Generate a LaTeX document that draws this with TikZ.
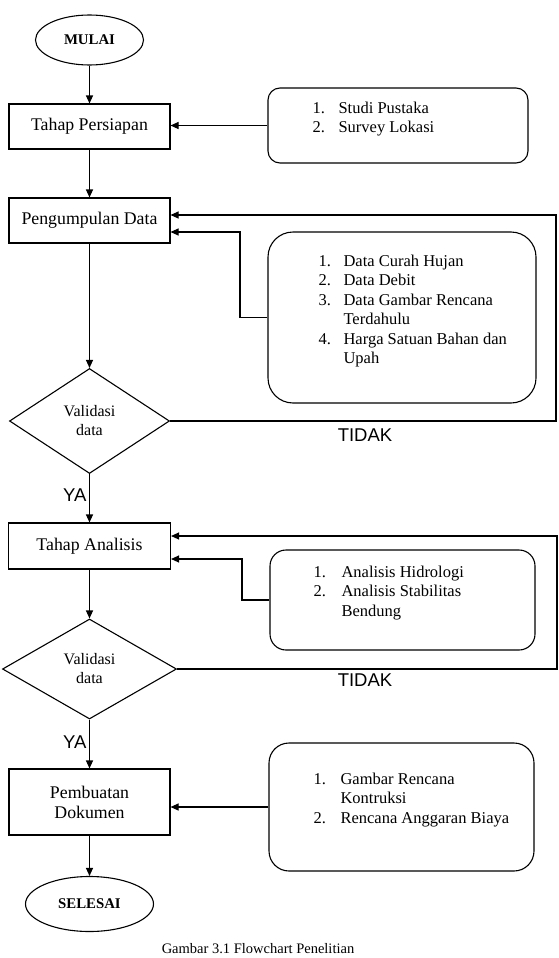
\documentclass[tikz,border=0pt]{standalone}
\usepackage{fontspec}
\setmainfont{Liberation Serif}
\newfontfamily\sansarial{Liberation Sans}
\usetikzlibrary{shapes.geometric,arrows.meta}

\begin{document}
\begin{tikzpicture}[x=1pt,y=-1pt,
  every path/.style={>={Triangle[length=8pt,width=7pt]},line width=1.1pt},
  terminal/.style={draw,ellipse,inner sep=0pt,font=\fontsize{14.8}{17}\selectfont\bfseries},
  proses/.style={draw,rectangle,minimum width=161pt,inner sep=0pt,align=center,font=\fontsize{17.8}{20}\selectfont},
  keputusan/.style={draw,diamond,inner sep=0pt,align=center,font=\fontsize{16}{19}\selectfont},
  daftar/.style={draw,rectangle,inner sep=0pt},
  isi/.style={anchor=base west,inner sep=0pt,font=\fontsize{16.5}{19.5}\selectfont},
  ket/.style={inner sep=0pt,font=\sansarial\fontsize{18.5}{20}\selectfont}]
\useasboundingbox (0,0) rectangle (558,958);
\node[terminal,minimum width=108pt,minimum height=50pt] (a) at (89.5,40)    {MULAI};
\node[proses,minimum height=45pt]                      (b) at (89.5,126.5) {Tahap Persiapan};
\node[proses,minimum height=45pt]                      (c) at (89.5,220.5) {Pengumpulan Data};
\node[keputusan,minimum width=160pt,minimum height=105pt] (d) at (89.5,421) {Validasi\\data};
\node[proses,minimum width=162pt,minimum height=46pt]   (e) at (89.5,546)   {Tahap Analisis};
\node[keputusan,minimum width=174pt,minimum height=100pt] (f) at (89.5,669) {Validasi\\data};
\node[proses,minimum height=66pt]                      (g) at (89.5,802)   {Pembuatan\\Dokumen};
\node[terminal,minimum width=128pt,minimum height=55pt] (h) at (89.5,904)  {SELESAI};
\node[daftar,rounded corners=12pt,minimum width=260pt,minimum height=75pt]  (i) at (398,125.5) {};
\node[daftar,rounded corners=25pt,minimum width=268pt,minimum height=171pt] (j) at (402,317.5) {};
\node[daftar,rounded corners=16pt,minimum width=265pt,minimum height=100pt] (k) at (402.5,600) {};
\node[daftar,rounded corners=20pt,minimum width=265pt,minimum height=128pt] (l) at (401.5,807) {};
\node[isi] (i1) at (312,113) {\begin{tabular}[t]{@{}p{26pt}@{}l@{}}1. & Studi Pustaka\\2. & Survey Lokasi\end{tabular}};
\node[isi] (j1) at (318,266) {\begin{tabular}[t]{@{}p{25pt}@{}l@{}}1. & Data Curah Hujan\\2. & Data Debit\\3. & Data Gambar Rencana\\ & Terdahulu\\4. & Harga Satuan Bahan dan\\ & Upah\end{tabular}};
\node[isi] (k1) at (313,577) {\begin{tabular}[t]{@{}p{28pt}@{}l@{}}1. & Analisis Hidrologi\\2. & Analisis Stabilitas\\ & Bendung\end{tabular}};
\node[isi] (l1) at (313,784) {\begin{tabular}[t]{@{}p{27pt}@{}l@{}}1. & Gambar Rencana\\ & Kontruksi\\2. & Rencana Anggaran Biaya\end{tabular}};
\node[ket] (td1) at (365,435) {TIDAK};
\node[ket] (td2) at (365,680) {TIDAK};
\coordinate (t1) at (556,215);
\coordinate (s1) at (240,232);
\coordinate (t2) at (557,536);
\coordinate (s2) at (242,559);
\draw[->] (a) -- (b);
\draw[->] (i.west) -- (i.west -| b.east);
\draw[->] (b) -- (c);
\draw[->] (c) -- (d);
\draw[->] (d.east) -| (t1) -- (t1 -| c.east);
\draw[->] (j.west) -| (s1) -- (s1 -| c.east);
\draw[->] (d) -- node[ket,left=2.5pt,pos=0.44] (ya1) {YA} (e);
\draw[->] (e) -- (f);
\draw[->] (f.east) -| (t2) -- (t2 -| e.east);
\draw[->] (k.west) -| (s2) -- (s2 -| e.east);
\draw[->] (f) -- node[ket,left=2.5pt,pos=0.46] (ya2) {YA} (g);
\draw[->] (l.west) -- (l.west -| g.east);
\draw[->] (g) -- (h);
\node[anchor=base,font=\fontsize{14.5}{17}\selectfont] (cap) at (258,953) {Gambar 3.1 Flowchart Penelitian};
\end{tikzpicture}
\end{document}
